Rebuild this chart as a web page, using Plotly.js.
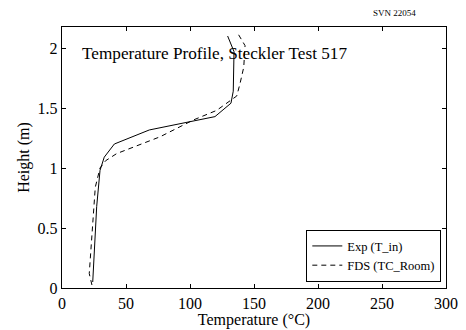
<!DOCTYPE html>
<html>
<head>
<meta charset="utf-8">
<script src="https://cdn.plot.ly/plotly-3.0.1.min.js"></script>
<style>html,body{margin:0;padding:0;background:#fff;}#chart{width:466px;height:330px;}</style>
</head>
<body>
<div id="chart"></div>
<script>
const expTemp = [24, 27.1, 29.7, 33, 40.9, 68.2, 100, 119.5, 132, 133.8, 134.4, 129.4];
const expHeight = [0.05, 0.68, 0.98, 1.09, 1.2, 1.317, 1.386, 1.428, 1.54, 1.64, 1.97, 2.1];
const fdsTemp = [23.4, 21.3, 26, 29.7, 34, 42.7, 76.6, 102.6, 120.8, 136.5, 139, 142, 143, 138];
const fdsHeight = [0.025, 0.12, 0.84, 1.0, 1.06, 1.12, 1.26, 1.4, 1.48, 1.6, 1.7, 1.84, 2.02, 2.11];
const xTicks = [0, 50, 100, 150, 200, 250, 300];
const yTicks = [0, 0.5, 1, 1.5, 2];
const yTickLabels = ['0', '0.5', '1', '1.5', '2'];

const font = 'Liberation Serif';
const traces = [
  {x: expTemp, y: expHeight, mode: 'lines', name: 'Exp (T_in)', line: {color: '#000', width: 1}},
  {x: fdsTemp, y: fdsHeight, mode: 'lines', name: 'FDS (TC_Room)', line: {color: '#000', width: 1, dash: '5px,4px'}}
];
const axisCommon = {
  showgrid: false, zeroline: false, showline: true, linecolor: '#000', linewidth: 1.3,
  mirror: 'ticks', ticks: 'inside', ticklen: 4, tickcolor: '#000',
  tickfont: {family: font, size: 16, color: '#000'}
};
const layout = {
  width: 466, height: 330,
  margin: {l: 62, r: 20, t: 27, b: 42},
  paper_bgcolor: '#fff', plot_bgcolor: '#fff',
  font: {family: font},
  showlegend: true,
  legend: {x: 0.987, y: 0.023, xanchor: 'right', yanchor: 'bottom',
    bordercolor: '#000', borderwidth: 1.3, bgcolor: '#fff',
    font: {family: font, size: 12.5, color: '#000'}, tracegroupgap: 0,
    itemwidth: 30},
  xaxis: Object.assign({}, axisCommon, {range: [0, 300], tickvals: xTicks,
    title: {text: 'Temperature (°C)', font: {family: font, size: 16, color: '#000'}, standoff: 0}}),
  yaxis: Object.assign({}, axisCommon, {range: [0, 2.175], tickvals: yTicks, ticktext: yTickLabels,
    title: {text: 'Height (m)', font: {family: font, size: 16, color: '#000'}, standoff: 4}}),
  annotations: [
    {text: 'Temperature Profile, Steckler Test 517', xref: 'paper', yref: 'paper',
     x: 0.047, y: 0.9, xanchor: 'left', yanchor: 'middle', showarrow: false,
     font: {family: font, size: 17.2, color: '#000'}},
    {text: 'SVN 22054', xref: 'paper', yref: 'paper', x: 0.867, y: 1.054,
     xanchor: 'center', yanchor: 'middle', showarrow: false,
     font: {family: font, size: 9, color: '#000'}}
  ]
};
Plotly.newPlot('chart', traces, layout, {displayModeBar: false, staticPlot: true});
</script>
</body>
</html>
